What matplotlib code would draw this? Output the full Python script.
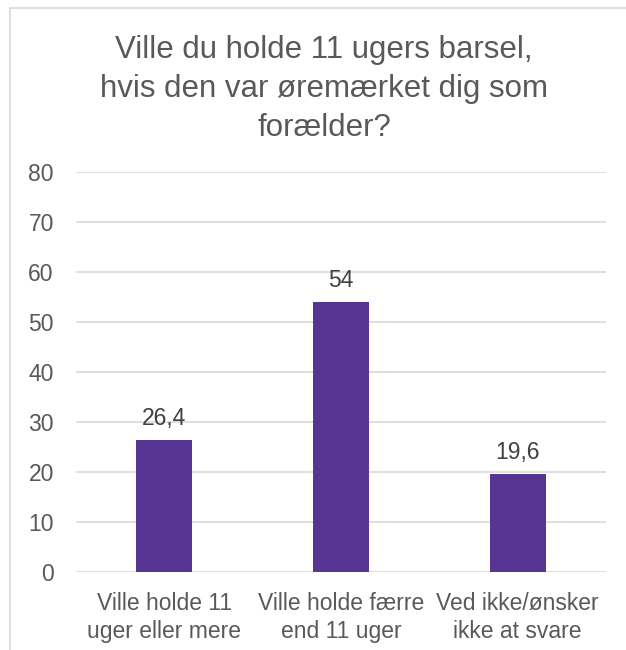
import matplotlib
matplotlib.use('Agg')
import matplotlib.pyplot as plt
from matplotlib.lines import Line2D

categories = ['Ville holde 11\nuger eller mere', 'Ville holde færre\nend 11 uger', 'Ved ikke/ønsker\nikke at svare']
values = [26.4, 54, 19.6]
value_labels = ['26,4', '54', '19,6']
yticks = [0, 10, 20, 30, 40, 50, 60, 70, 80]

plt.rcParams['font.family'] = ['Liberation Sans', 'DejaVu Sans']
text_col = '#595959'
bar_col = '#573592'

W, H = 626, 650
fig = plt.figure(figsize=(W / 100, H / 100), dpi=100)
ax = fig.add_axes([76 / W, 1 - 572 / H, 530 / W, 400 / H])

x = range(len(categories))
bars = ax.bar(x, values, width=0.317, color=bar_col, zorder=3)
for b, lab in zip(bars, value_labels):
    ax.annotate(lab, (b.get_x() + b.get_width() / 2, b.get_height()),
                xytext=(0, 11), textcoords='offset points',
                ha='center', va='baseline', fontsize=16.5, color='#404040')

ax.set_xlim(-0.5, 2.5)
ax.set_ylim(0, 80)
ax.set_yticks(yticks)
ax.set_xticks(list(x))
ax.set_xticklabels(categories, fontsize=16.5, color=text_col, linespacing=1.25)
ax.tick_params(axis='y', length=0, pad=16, labelsize=16.5, labelcolor=text_col)
ax.tick_params(axis='x', length=0, pad=14.5)
ax.grid(axis='y', color='#d9d9d9', linewidth=1.2, zorder=0)
for s in ax.spines.values():
    s.set_visible(False)

fig.text(324 / W, 1 - 35 / H, 'Ville du holde 11 ugers barsel,\nhvis den var øremærket dig som\nforælder?',
         ha='center', va='top', fontsize=22.5, color=text_col, linespacing=1.4)

# chart frame
fig.add_artist(Line2D([9.5 / W, 9.5 / W], [0, 1 - 8 / H], color='#d9d9d9', linewidth=1.2))
fig.add_artist(Line2D([9.5 / W, 1], [1 - 8 / H, 1 - 8 / H], color='#d9d9d9', linewidth=1.2))

fig.savefig('out.png', dpi=100, facecolor='white')
